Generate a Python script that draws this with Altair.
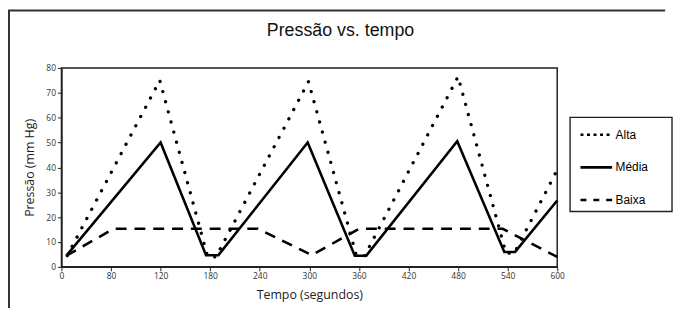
import altair as alt
import pandas as pd

# ---- data ----
series_names = ["Alta", "Média", "Baixa"]

alta_t = [7, 119, 177, 187, 299, 357, 367, 480, 538, 548, 600]
alta_v = [4.5, 75, 4, 4, 74.5, 4.5, 4.5, 76.5, 5.5, 5.5, 39]

media_t = [6, 120, 175, 190, 298, 355, 369, 479, 536, 549, 600]
media_v = [4.5, 50, 4.7, 4.7, 50, 4.5, 4.5, 50.5, 6, 6, 26.7]

baixa_t = [6, 63, 238, 303, 360, 534, 600]
baixa_v = [4.5, 15.3, 15.3, 4.7, 15.3, 15.3, 4]

x_tick_values = [0, 60, 120, 180, 240, 300, 360, 420, 480, 540, 600]
x_tick_labels = ["0", "80", "120", "180", "240", "300", "360", "420", "480", "540", "600"]
y_tick_values = [0, 10, 20, 30, 40, 50, 60, 70, 80]

chart_title = "Pressão vs. tempo"
x_title = "Tempo (segundos)"
y_title = "Pressão (mm Hg)"

# ---- build table ----
rows = []
for name, ts, vs in [("Alta", alta_t, alta_v), ("Média", media_t, media_v), ("Baixa", baixa_t, baixa_v)]:
    for t, v in zip(ts, vs):
        rows.append({"serie": name, "t": t, "v": v})
df = pd.DataFrame(rows)

vals_js = "[" + ",".join(str(v) for v in x_tick_values) + "]"
labs_js = "[" + ",".join("'" + s + "'" for s in x_tick_labels) + "]"
label_expr = f"{labs_js}[indexof({vals_js}, datum.value)]"

W, H = 501, 201

x_enc = alt.X(
    "t:Q",
    scale=alt.Scale(domain=[0, 600], nice=False),
    axis=alt.Axis(values=x_tick_values, labelExpr=label_expr, labelPadding=1,
                  titlePadding=8, labelFlush=False),
    title=x_title,
)
y_enc = alt.Y(
    "v:Q",
    scale=alt.Scale(domain=[0, 80], nice=False),
    axis=alt.Axis(values=y_tick_values, labelPadding=2, titlePadding=10),
    title=y_title,
)

base = alt.Chart(df).encode(x=x_enc, y=y_enc)

legend_layer = base.mark_line(opacity=0).encode(
    strokeDash=alt.StrokeDash(
        "serie:N",
        scale=alt.Scale(domain=series_names, range=[[3, 3.6], [1, 0], [6, 7]]),
        legend=alt.Legend(
            orient="none", legendX=523, legendY=50, padding=0, title=None,
            symbolType="stroke", symbolSize=1024, symbolStrokeWidth=2.6,
            symbolStrokeColor="black", symbolOpacity=1,
            labelFont="Liberation Sans", labelFontSize=12, labelColor="black",
            labelOffset=2, rowPadding=9,
        ),
    )
)

alta_line = base.transform_filter(alt.datum.serie == "Alta").mark_line(
    color="black", strokeWidth=3.3, strokeDash=[0.1, 10.5], strokeCap="round"
)
media_line = base.transform_filter(alt.datum.serie == "Média").mark_line(
    color="black", strokeWidth=2.6
)
baixa_line = base.transform_filter(alt.datum.serie == "Baixa").mark_line(
    color="black", strokeWidth=2.6, strokeDash=[11, 8]
)

one = pd.DataFrame({"k": [0]})
legend_box = alt.Chart(one).mark_rect(
    fill="white", fillOpacity=0, stroke="#222", strokeWidth=1.4
).encode(x=alt.value(514), x2=alt.value(617), y=alt.value(50), y2=alt.value(145))

frame_left = alt.Chart(one).mark_rule(color="#333", strokeWidth=2).encode(
    x=alt.value(-53), y=alt.value(-58), y2=alt.value(250)
)
frame_top = alt.Chart(one).mark_rule(color="#333", strokeWidth=2).encode(
    x=alt.value(-54), x2=alt.value(610), y=alt.value(-58)
)

title_df = pd.DataFrame({"titulo": [chart_title]})
title_mark = alt.Chart(title_df).mark_text(
    font="Liberation Sans", fontSize=18, color="#111", align="center", baseline="middle"
).encode(text="titulo:N", x=alt.value(282), y=alt.value(-37))

chart = alt.layer(
    legend_layer, alta_line, media_line, baixa_line, legend_box,
    frame_left, frame_top, title_mark
).properties(
    width=W, height=H,
    autosize=alt.AutoSizeParams(type="none"),
    padding={"left": 54, "top": 59, "right": 117, "bottom": 40},
).configure_view(
    stroke="#222", strokeWidth=1.5
).configure_axis(
    grid=False, domainColor="#222", domainWidth=1.5, tickColor="#222", tickSize=4,
    tickWidth=1, labelFont="Open Sans", labelFontSize=8.5, labelColor="#333",
    titleFont="Open Sans", titleFontSize=12.5, titleFontWeight="normal", titleColor="#222",
)

chart.save("out.html", embed_options={"renderer": "svg", "actions": False})
